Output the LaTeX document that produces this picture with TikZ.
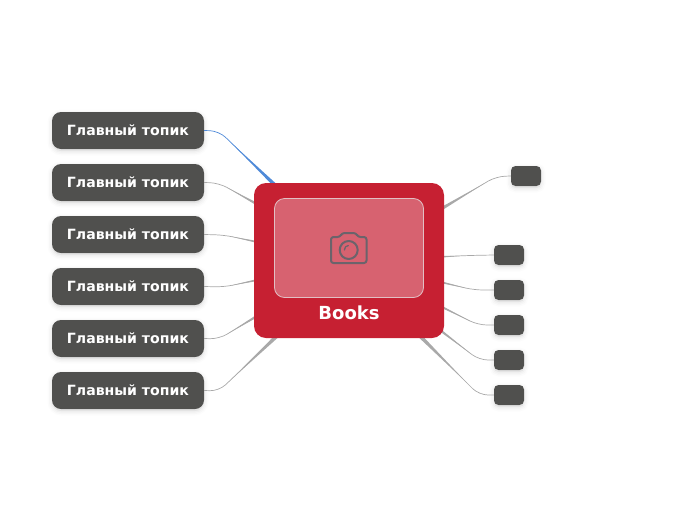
\documentclass[tikz,border=0pt]{standalone}
\usepackage{fontspec}
\setmainfont{DejaVu Sans}
\usetikzlibrary{calc}
\definecolor{topicgray}{HTML}{50504E}
\definecolor{bookred}{HTML}{C62032}
\definecolor{imgred}{HTML}{D76270}
\definecolor{imgedge}{HTML}{E2BFC4}
\definecolor{linkgray}{HTML}{A9A9A9}
\definecolor{linkblue}{HTML}{4F8AD8}
\definecolor{camgray}{HTML}{6B636B}
\tikzset{
  softshadow/.style={
    preaction={draw=black,fill=black,opacity=.012,line width=9pt,transform canvas={yshift=-2pt}},
    preaction={draw=black,fill=black,opacity=.018,line width=6pt,transform canvas={yshift=-2pt}},
    preaction={draw=black,fill=black,opacity=.025,line width=3pt,transform canvas={yshift=-2pt}}},
  topic/.style={softshadow,fill=topicgray,rounded corners=9pt,minimum width=152pt,minimum height=37pt,
    inner sep=0pt,text=white,text height=10.4pt,text depth=1.2pt,font=\bfseries\fontsize{14.1}{17}\selectfont},
  leaf/.style={softshadow,fill=topicgray,rounded corners=4.5pt,minimum width=30pt,minimum height=20pt,inner sep=0pt},
  central/.style={fill=bookred,rounded corners=12pt,minimum width=190pt,minimum height=155pt,inner sep=0pt},
  imagebox/.style={fill=imgred,draw=imgedge,line width=.8pt,rounded corners=10pt,minimum width=149pt,minimum height=99pt,inner sep=0pt},
  booktitle/.style={text=white,inner sep=0pt,font=\bfseries\fontsize{18}{22}\selectfont},
  camera/.style={draw=camgray,line width=2pt,line join=round,line cap=round}
}
% #1 start node anchor, #2 knee, #3 end coordinate, #4 colour, #5 half width at far end
\newcommand{\taper}[5]{%
  \draw[#4,line width=.7pt,rounded corners=9pt] (#1) -- (#2) -- (#3);
  \fill[#4] ($(#2)!.2!(#3)$) -- ($(#3)!#5!90:(#2)$) -- ($(#3)!#5!-90:(#2)$) -- cycle;
}
\begin{document}
\begin{tikzpicture}[x=1pt,y=-1pt]
\useasboundingbox (0,0) rectangle (697,520);
\coordinate (e1) at (279,189);
\coordinate (e2) at (262,207);
\coordinate (e3) at (262,243);
\coordinate (e4) at (262,279);
\coordinate (e5) at (262,313);
\coordinate (e6) at (279,334);
\coordinate (f1) at (436,212);
\coordinate (f2) at (436,257);
\coordinate (f3) at (436,281);
\coordinate (f4) at (436,304);
\coordinate (f5) at (436,327);
\coordinate (f6) at (418,334);
\coordinate (k1) at (219,131);
\coordinate (k2) at (219,183);
\coordinate (k3) at (224,235);
\coordinate (k4) at (224,287);
\coordinate (k5) at (219,339);
\coordinate (k6) at (219,391);
\coordinate (j1) at (496,176.5);
\coordinate (j2) at (468,255.5);
\coordinate (j3) at (474,290);
\coordinate (j4) at (478,325);
\coordinate (j5) at (479,360);
\coordinate (j6) at (479,395);
\node[topic] (t1) at (128,130.5) {Главный топик};
\node[topic] (t2) at (128,182.5) {Главный топик};
\node[topic] (t3) at (128,234.5) {Главный топик};
\node[topic] (t4) at (128,286.5) {Главный топик};
\node[topic] (t5) at (128,338.5) {Главный топик};
\node[topic] (t6) at (128,390.5) {Главный топик};
\node[leaf] (l1) at (526,176) {};
\node[leaf] (l2) at (509,255) {};
\node[leaf] (l3) at (509,290) {};
\node[leaf] (l4) at (509,325) {};
\node[leaf] (l5) at (509,360) {};
\node[leaf] (l6) at (509,395) {};
\taper{t1.east}{k1}{e1}{linkblue}{2pt}
\taper{t2.east}{k2}{e2}{linkgray}{1.5pt}
\taper{t3.east}{k3}{e3}{linkgray}{1.2pt}
\taper{t4.east}{k4}{e4}{linkgray}{1.2pt}
\taper{t5.east}{k5}{e5}{linkgray}{1.5pt}
\taper{t6.east}{k6}{e6}{linkgray}{2pt}
\taper{l1.west}{j1}{f1}{linkgray}{1.8pt}
\taper{l2.west}{j2}{f2}{linkgray}{1.1pt}
\taper{l3.west}{j3}{f3}{linkgray}{1.2pt}
\taper{l4.west}{j4}{f4}{linkgray}{1.3pt}
\taper{l5.west}{j5}{f5}{linkgray}{1.4pt}
\taper{l6.west}{j6}{f6}{linkgray}{2pt}
\node[central] (c) at (349,260.5) {};
\node[imagebox] (img) at (349,248) {};
\node[booktitle] (title) at (349,312.5) {Books};
% camera icon
\draw[camera,rounded corners=2.5pt] (331,263) -- (331,237) -- (340,237) -- (342,233) -- (356,233) -- (358,237) -- (366.5,237) -- (366.5,263) -- cycle;
\draw[camera] (348.7,250) circle (9pt);
\draw[camera,line width=1.3pt] (344.4,250) .. controls (344.4,247.5) and (346,245.7) .. (348.3,245.5);
\end{tikzpicture}
\end{document}
